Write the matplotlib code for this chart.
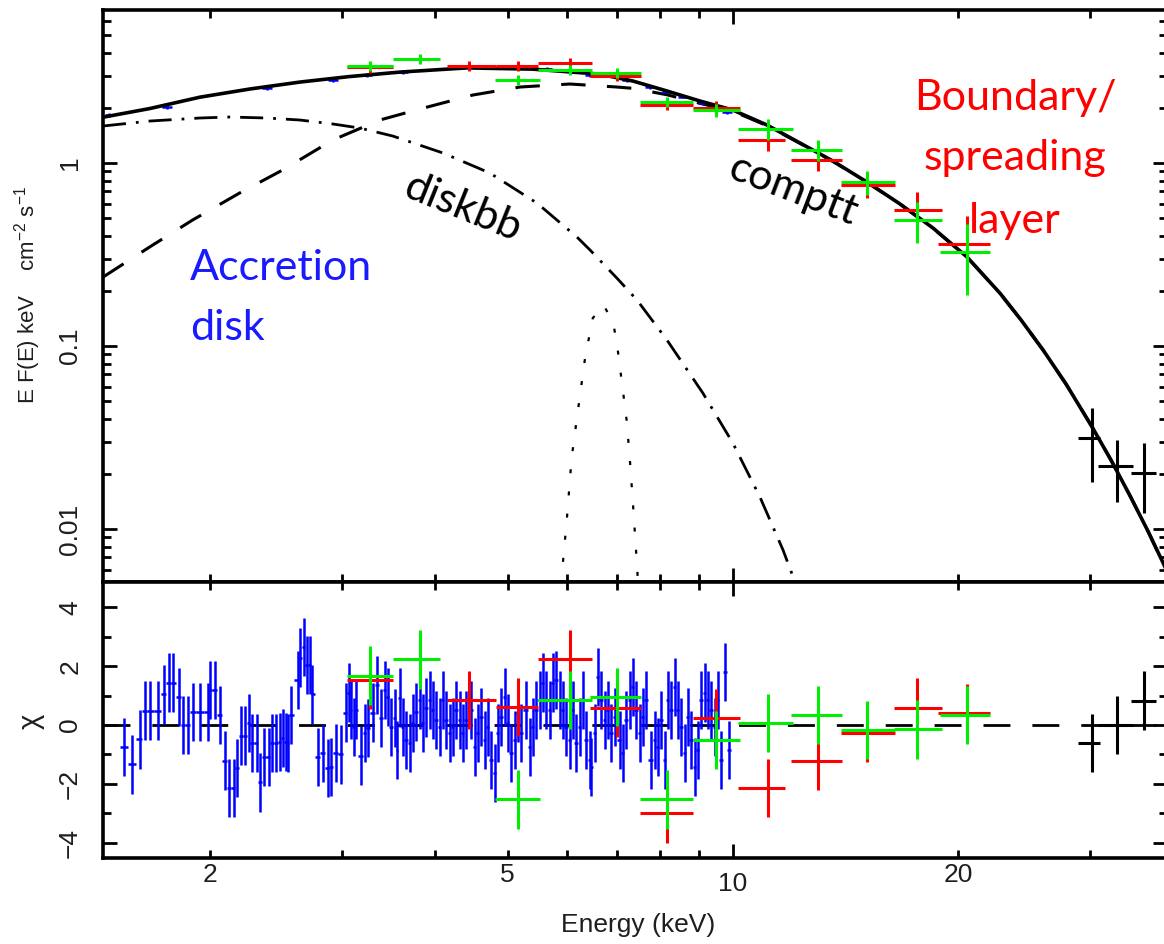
import numpy as np
import matplotlib.pyplot as plt
from matplotlib.ticker import FixedLocator, NullFormatter, LogLocator

plt.rcParams['font.family'] = ['Liberation Sans', 'DejaVu Sans']
plt.rcParams['mathtext.default'] = 'regular'

# ---- model curves (keV, keV^2 cm^-2 s^-1 keV^-1) ----
tot_E = [1.44, 1.663, 1.94, 2.262, 2.64, 3.077, 3.59, 4.41, 5.40, 6.64, 7.354, 8.17,
         9.04, 10.0, 11.11, 12.30, 13.61, 15.11, 16.73, 18.52, 20.56, 22.76, 24.28,
         25.98, 27.88, 30.21, 32.04, 33.96, 35.9, 37.58, 38.1]
tot_F = [1.78, 1.985, 2.29, 2.538, 2.77, 2.97, 3.14, 3.31, 3.26, 3.06, 2.806, 2.474,
         2.182, 1.948, 1.613, 1.286, 1.025, 0.787, 0.597, 0.441, 0.3064, 0.1941, 0.1387,
         0.0951, 0.0620, 0.0361, 0.0237, 0.01515, 0.00968, 0.00654, 0.00578]

comptt_E = [1.44, 1.663, 1.897, 2.193, 2.503, 2.921, 3.375, 3.817, 4.494, 5.193, 6.058,
            7.0, 7.354, 8.17, 9.04, 10.0, 11.11, 12.30, 13.61, 15.11, 16.73, 18.52,
            20.56, 22.76, 24.28, 25.98, 27.88, 30.21, 32.04, 33.96, 35.9, 38.1]
comptt_F = [0.238, 0.348, 0.488, 0.686, 0.916, 1.336, 1.718, 1.973, 2.353, 2.602, 2.703,
            2.602, 2.56, 2.36, 2.12, 1.92, 1.60, 1.28, 1.02, 0.785, 0.596, 0.440,
            0.306, 0.1938, 0.1385, 0.0950, 0.0619, 0.0361, 0.0237, 0.01514, 0.00967, 0.00578]

diskbb_E = [1.44, 1.663, 1.94, 2.127, 2.384, 2.639, 2.921, 3.174, 3.513, 4.10, 4.734,
            5.474, 6.19, 6.443, 7.0, 7.446, 8.166, 9.12, 10.0, 10.87, 11.67, 12.11]
diskbb_F = [1.593, 1.696, 1.762, 1.784, 1.762, 1.718, 1.634, 1.553, 1.404, 1.134, 0.882,
            0.604, 0.394, 0.335, 0.235, 0.1784, 0.1078, 0.0553, 0.0295, 0.01496, 0.00768,
            0.00513]

gauss_E = [5.91, 5.93, 6.00, 6.09, 6.19, 6.35, 6.50, 6.72, 6.92, 7.00, 7.11, 7.22,
           7.29, 7.36, 7.45, 7.47]
gauss_F = [0.0050, 0.0066, 0.0112, 0.0244, 0.0404, 0.0871, 0.142, 0.1675, 0.1336, 0.1038,
           0.0628, 0.0380, 0.0230, 0.0132, 0.0062, 0.0050]

# ---- green data ----
g_E = np.array([3.27, 3.82, 5.16, 6.06, 7.0, 8.17, 9.50, 11.14, 13.0, 15.1, 17.63, 20.56])
g_lo = np.array([3.05, 3.51, 4.81, 5.49, 6.45, 7.52, 8.85, 10.17, 11.95, 13.93, 16.40, 18.9])
g_hi = np.array([3.51, 4.06, 5.52, 6.48, 7.54, 8.85, 10.23, 12.03, 14.0, 16.47, 19.03, 22.1])
g_F = np.array([3.39, 3.70, 2.84, 3.22, 3.10, 2.154, 1.948, 1.534, 1.178, 0.787, 0.488, 0.326])
g_rel = np.array([0.065, 0.065, 0.065, 0.065, 0.065, 0.065, 0.085, 0.13, 0.13, 0.15, 0.25, 0.42])
g_chi = np.array([1.67, 2.24, -2.52, 0.85, 0.95, -2.52, -0.51, 0.07, 0.34, -0.17, -0.14, 0.34])

# ---- red data ----
r_E = np.array([3.27, 4.44, 5.16, 6.06, 7.0, 8.17, 9.50, 11.14, 13.0, 15.1, 17.63, 20.56])
r_lo = np.array([3.05, 4.15, 4.82, 5.49, 6.45, 7.52, 8.85, 10.17, 11.95, 13.93, 16.40, 18.8])
r_hi = np.array([3.51, 4.82, 5.49, 6.48, 7.54, 8.85, 10.23, 11.74, 14.0, 16.47, 19.03, 22.05])
r_F = np.array([3.33, 3.39, 3.39, 3.52, 2.99, 2.075, 2.0, 1.336, 1.038, 0.758, 0.553, 0.361])
r_rel = np.array([0.065, 0.065, 0.065, 0.065, 0.065, 0.065, 0.085, 0.13, 0.13, 0.15, 0.25, 0.42])
r_chi = np.array([1.53, 0.85, 0.61, 2.24, 0.58, -3.0, 0.24, -2.14, -1.22, -0.27, 0.58, 0.4])

# ---- black (hard X-ray) data ----
k_E = np.array([30.2, 32.6, 35.4])
k_lo = np.array([28.9, 30.8, 34.1])
k_hi = np.array([31.0, 34.3, 36.8])
k_F = np.array([0.0314, 0.0221, 0.0202])
k_Flo = np.array([0.0181, 0.01405, 0.01224])
k_Fhi = np.array([0.0458, 0.0306, 0.0295])
k_chi = np.array([-0.61, 0.0, 0.82])

# ---- blue data: spectrum points visible along the model ----
bt_E = np.array([1.469, 1.752, 2.384, 2.921, 3.243, 3.623, 5.643, 6.45, 6.85, 7.22,
                 7.75, 8.17, 8.58, 9.12, 9.61, 9.82])
bt_F = np.array([1.829, 2.023, 2.57, 2.84, 3.026, 3.143, 3.264, 3.026, 3.026, 2.841,
                 2.60, 2.45, 2.30, 2.13, 2.023, 1.90])

# ---- blue residuals ----
b_E = np.array([
    1.535, 1.573, 1.612, 1.637, 1.663, 1.704, 1.736, 1.763, 1.785, 1.818, 1.841, 1.869,
    1.898, 1.939, 1.988, 2.000, 2.031, 2.063, 2.095, 2.120, 2.153, 2.173, 2.200, 2.228,
    2.255, 2.276, 2.311, 2.333, 2.362, 2.398, 2.421, 2.451, 2.481, 2.504, 2.527, 2.543,
    2.566, 2.622, 2.638, 2.671, 2.696, 2.721, 2.738, 2.789, 2.832, 2.876, 2.903, 2.948,
    2.993, 3.040, 3.068, 3.087, 3.116, 3.135, 3.184, 3.223, 3.253, 3.303, 3.344, 3.386,
    3.428, 3.459, 3.492, 3.535, 3.556, 3.590, 3.623, 3.656, 3.702, 3.736, 3.771, 3.817,
    3.853, 3.889, 3.937, 3.973, 4.010, 4.060, 4.097, 4.136, 4.187, 4.226, 4.265, 4.318,
    4.358, 4.398, 4.466, 4.521, 4.564, 4.606, 4.663, 4.706, 4.750, 4.809, 4.854, 4.898,
    4.959, 5.005, 5.052, 5.114, 5.162, 5.210, 5.290, 5.356, 5.406, 5.456, 5.523, 5.575,
    5.626, 5.696, 5.749, 5.802, 5.874, 5.928, 5.984, 6.058, 6.114, 6.171, 6.247, 6.305,
    6.363, 6.443, 6.462, 6.542, 6.603, 6.664, 6.747, 6.810, 6.873, 6.958, 7.066, 7.131,
    7.198, 7.287, 7.354, 7.423, 7.515, 7.584, 7.654, 7.773, 7.869, 7.943, 8.016, 8.115,
    8.191, 8.267, 8.369, 8.446, 8.525, 8.631, 8.711, 8.792, 8.901, 8.983, 9.066, 9.179,
    9.264, 9.350, 9.466, 9.554, 9.642, 9.762, 9.882])
b_chi = np.array([
    -0.75, -1.33, -0.48, 0.48, 0.48, 0.48, 1.05, 1.43, 1.43, 0.95, 0.0, 0.0,
    0.44, 0.44, 0.44, 1.19, 1.19, 0.34, -1.22, -2.14, -2.14, -1.46, -0.37, -0.37,
    0.07, -0.61, -0.61, -1.94, -1.09, -1.09, -0.61, -0.61, -0.58, -0.44, -0.58, -0.61,
    0.34, 1.53, 2.28, 2.65, 2.04, 2.04, 1.05, -1.09, -0.95, -1.46, -1.43, -0.95,
    -0.99, 0.41, 1.09, 0.51, -0.07, 0.51, -1.05, -0.27, -0.10, 0.41, 1.36, 0.24,
    1.19, 0.95, -0.07, 0.24, -0.85, 0.92, -0.07, -0.51, -0.61, 0.07, 0.44, 0.85,
    0.07, 0.58, 0.85, 0.51, 0.17, -0.07, 0.85, 0.17, -0.27, -0.07, 0.51, 0.17,
    -0.27, 0.17, 0.51, -0.75, -0.27, 0.27, -0.51, -0.07, -1.19, -1.63, -0.27, 0.27,
    0.95, 0.07, -0.95, -0.51, 0.41, -0.27, 0.51, -0.75, -0.07, 0.51, 0.85, 1.43,
    0.85, 0.51, 1.43, 1.53, 0.85, 0.51, -0.07, -0.51, 0.51, -0.61, -0.07, 0.85,
    -0.51, -1.19, -1.43, -0.27, 1.63, 0.85, 0.17, 0.51, -0.27, 0.27, -0.51, -0.95,
    0.17, 0.85, 1.29, 0.51, -0.27, 0.27, 0.85, -1.19, -0.51, -0.75, 0.17, -1.19,
    0.85, 0.51, 1.29, 0.51, -0.07, -0.95, 0.27, -0.51, -1.43, -0.85, 0.85, 1.09,
    0.85, 0.51, -0.07, 0.85, -1.19, 1.8, -0.85])

# contiguous bins for the blue residuals
mid = np.sqrt(b_E[1:] * b_E[:-1])
b_lo = np.concatenate([[b_E[0] ** 2 / mid[0]], mid])
b_hi = np.concatenate([mid, [b_E[-1] ** 2 / mid[-1]]])

BLUE, RED, GREEN = '#0000ff', '#ff0000', '#00ee00'
TXT = '#1e1e1e'

fig = plt.figure(figsize=(11.64, 9.44), dpi=100)
ax1 = fig.add_axes([0.0885, 0.3835, 0.9145, 0.6059])
ax2 = fig.add_axes([0.0885, 0.0911, 0.9145, 0.2924])

# top panel: model components
ax1.plot(comptt_E, comptt_F, color='k', lw=2.2, dashes=(8, 7), zorder=2)
ax1.plot(diskbb_E, diskbb_F, color='k', lw=2.0, dashes=(8.3, 3.6, 1.0, 3.6), zorder=2)
ax1.plot(gauss_E, gauss_F, color='k', lw=1.6, dashes=(1.8, 8.2), zorder=2)

ax1.errorbar(bt_E, bt_F, xerr=0.015 * bt_E, yerr=0.02 * bt_F, fmt='none',
             ecolor=BLUE, elinewidth=1.8, zorder=3)
ax1.plot(tot_E, tot_F, color='k', lw=2.6, zorder=4)

ax1.errorbar(r_E, r_F, xerr=[r_E - r_lo, r_hi - r_E], yerr=r_rel * r_F, fmt='none',
             ecolor=RED, elinewidth=2.2, zorder=5)
ax1.errorbar(g_E, g_F, xerr=[g_E - g_lo, g_hi - g_E], yerr=g_rel * g_F, fmt='none',
             ecolor=GREEN, elinewidth=2.2, zorder=6)
ax1.errorbar(k_E, k_F, xerr=[k_E - k_lo, k_hi - k_E], yerr=[k_F - k_Flo, k_Fhi - k_F],
             fmt='none', ecolor='k', elinewidth=2.2, zorder=6)

# bottom panel: residuals
ax2.axhline(0, color='k', lw=2.0, dashes=(9.7, 7.9), zorder=1)
ax2.errorbar(b_E, b_chi, xerr=[b_E - b_lo, b_hi - b_E], yerr=1.0, fmt='none',
             ecolor=BLUE, elinewidth=1.8, zorder=3)
ax2.errorbar(r_E, r_chi, xerr=[r_E - r_lo, r_hi - r_E], yerr=1.0, fmt='none',
             ecolor=RED, elinewidth=2.2, zorder=4)
ax2.errorbar(g_E, g_chi, xerr=[g_E - g_lo, g_hi - g_E], yerr=1.0, fmt='none',
             ecolor=GREEN, elinewidth=2.2, zorder=5)
ax2.errorbar(k_E, k_chi, xerr=[k_E - k_lo, k_hi - k_E], yerr=1.0, fmt='none',
             ecolor='k', elinewidth=2.2, zorder=5)

# axes, ticks
for ax in (ax1, ax2):
    ax.set_xscale('log')
    ax.set_xlim(1.44, 38.1)
    ax.xaxis.set_major_locator(FixedLocator([10]))
    ax.xaxis.set_minor_locator(FixedLocator([2, 3, 4, 5, 6, 7, 8, 9, 20, 30]))
    ax.tick_params(which='both', direction='in', top=True, right=True, width=2.0,
                   colors='k', labelcolor=TXT, labelsize=19)
    ax.tick_params(which='major', length=10)
    ax.tick_params(which='minor', length=6)
    ax.tick_params(axis='x', pad=10)
    ax.tick_params(axis='y', pad=15)
    for s in ax.spines.values():
        s.set_linewidth(2.6)

ax1.set_yscale('log')
ax1.set_ylim(0.00513, 6.86)
ax1.yaxis.set_major_locator(FixedLocator([0.01, 0.1, 1]))
ax1.yaxis.set_minor_locator(LogLocator(base=10, subs=np.arange(2, 10)))
ax1.set_yticklabels(['0.01', '0.1', '1'])
ax1.yaxis.set_minor_formatter(NullFormatter())
ax1.xaxis.set_major_formatter(NullFormatter())
ax1.xaxis.set_minor_formatter(NullFormatter())

ax2.set_ylim(-4.52, 4.86)
ax2.set_yticks([-4, -2, 0, 2, 4])
ax2.set_yticklabels(['\u22124', '\u22122', '0', '2', '4'])
ax2.set_yticks([-3, -1, 1, 3], minor=True)
ax2.set_xticks([10])
ax2.set_xticklabels(['10'])
ax2.set_xticks([2, 3, 4, 5, 6, 7, 8, 9, 20, 30], minor=True)
ax2.set_xticklabels(['2', '', '', '5', '', '', '', '', '20', ''], minor=True)

for ax in (ax1, ax2):
    for lab in ax.get_yticklabels():
        lab.set_rotation(90)
        lab.set_va('center')

fig.text(28 / 1164, 1 - 295 / 944, r'E F(E) keV    cm$^{-2}$ s$^{-1}$', rotation=90,
         ha='center', va='center', fontsize=16, color=TXT)
fig.text(31 / 1164, 1 - 721 / 944, '\u03c7', rotation=90, ha='center', va='center',
         fontsize=21, color=TXT)
fig.text(638 / 1164, 1 - 925 / 944, 'Energy (keV)', ha='center', va='center',
         fontsize=19, color=TXT)

# annotations
ann = dict(family=['Lato', 'DejaVu Sans'], fontsize=31)
fig.text(190 / 1164, 1 - 280 / 944, 'Accretion', color='#1a1aff', ha='left',
         va='baseline', **ann)
fig.text(190 / 1164, 1 - 340 / 944, 'disk', color='#1a1aff', ha='left',
         va='baseline', **ann)
fig.text(463 / 1164, 1 - 208 / 944, 'diskbb', color='k', ha='center', va='center',
         rotation=-22, **ann)
fig.text(793 / 1164, 1 - 190 / 944, 'comptt', color='k', ha='center', va='center',
         rotation=-21, **ann)
for txt, yb in (('Boundary/', 110), ('spreading', 170), ('layer', 233)):
    fig.text(1015 / 1164, 1 - yb / 944, txt, color='#ff0000', ha='center',
             va='baseline', **ann)

fig.savefig('out.png', dpi=100)
